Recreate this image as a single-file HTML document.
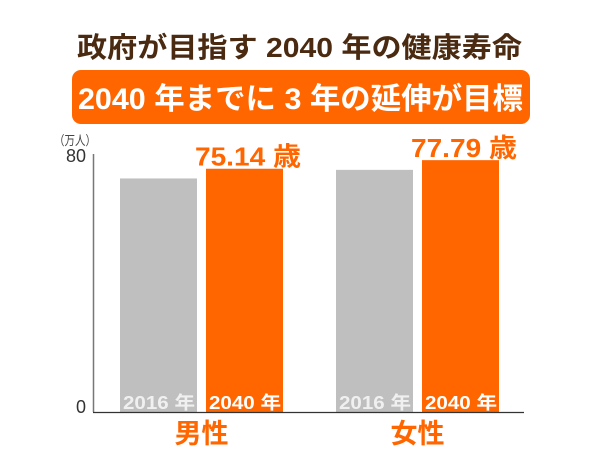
<!DOCTYPE html>
<html><head><meta charset="utf-8"><style>
body{margin:0;width:600px;height:450px;background:#fff;overflow:hidden;font-family:"Liberation Sans","Noto Sans CJK JP",sans-serif}
</style></head><body>
<svg width="600" height="450" xmlns="http://www.w3.org/2000/svg" font-family="Liberation Sans, Noto Sans CJK JP, sans-serif">
<text x="77" y="57" textLength="445" lengthAdjust="spacingAndGlyphs" font-size="28" font-weight="bold" fill="#4a2a10">政府が目指す 2040 年の健康寿命</text>
<rect x="72" y="70" width="458" height="54" rx="9" fill="#ff6600"/>
<text x="78" y="109" textLength="445" lengthAdjust="spacingAndGlyphs" font-size="30" font-weight="bold" fill="#fff">2040 年までに 3 年の延伸が目標</text>
<text x="54" y="145" textLength="42" lengthAdjust="spacingAndGlyphs" font-size="13" fill="#444">（万人）</text>
<g id="plot"></g>
</svg>
<script>
const groups=['男性','女性'];
const years=['2016 年','2040 年'];
const v2016=[72.14,74.79];
const v2040=[75.14,77.79];
const yTicks=[0,80];
const ns='http://www.w3.org/2000/svg';
const g=document.getElementById('plot');
const y0=412,yTop=153,yMax=80;
const y=v=>y0-(v/yMax)*(y0-yTop);
const gx=[120,336],bw=77,gap=86;
function el(t,a,txt){const e=document.createElementNS(ns,t);for(const k in a)e.setAttribute(k,a[k]);if(txt!=null)e.textContent=txt;g.appendChild(e);return e;}
let ax=el('line',{x1:93.5,y1:154,x2:93.5,y2:y0,stroke:'#777','stroke-width':1.5});


yTicks.forEach(t=>{const e=el('text',{x:86,y:y(t)+(t?9:1),'text-anchor':'end','font-size':18,fill:'#333'},String(t));

});
groups.forEach((gr,i)=>{
 [v2016[i],v2040[i]].forEach((v,j)=>{
  const x=gx[i]+j*gap;
  const r=el('rect',{x:x,y:y(v),width:bw,height:y0-y(v),fill:j?'#ff6600':'#bfbfbf'});
  
  
  const t=el('text',{x:x+3,y:y0-3,textLength:72,lengthAdjust:'spacingAndGlyphs','font-size':18,'font-weight':'bold',fill:j?'#fff':'#f0f0f0'},years[j]);
  
  
 });
 const lx=gx[i]+gap-11;
 const vl=el('text',{x:lx,y:y(v2040[i])-3,textLength:106,lengthAdjust:'spacingAndGlyphs','font-size':26,'font-weight':'bold',fill:'#ff6600'},v2040[i].toFixed(2)+' 歳');
 
 
 const cl=el('text',{x:gx[i]+(gap+bw)/2,y:443,'text-anchor':'middle','font-size':27,'font-weight':'bold',fill:'#ff6600'},gr);
 
 
});
const xa=el('line',{x1:93,y1:y0+0.5,x2:524,y2:y0+0.5,stroke:'#333','stroke-width':1.2});


</script>
</body></html>
